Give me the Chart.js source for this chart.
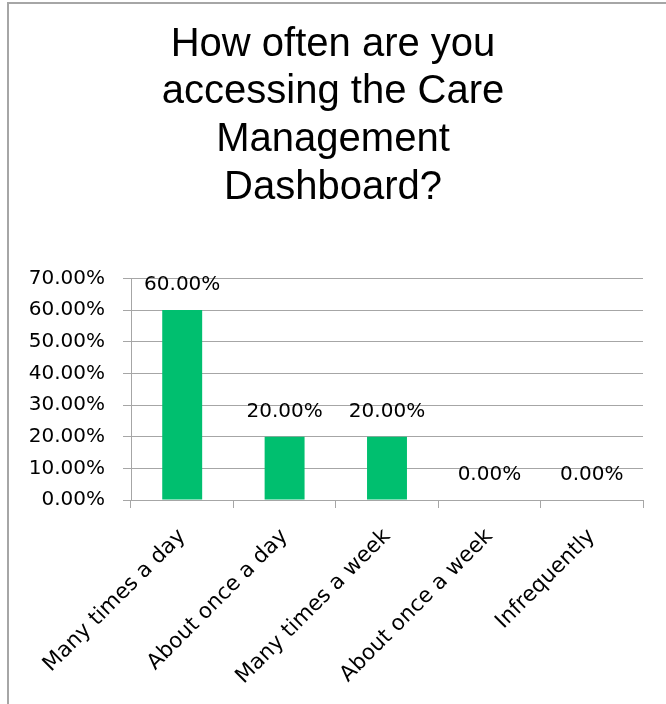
<!DOCTYPE html>
<html>
<head>
<meta charset="utf-8">
<script src="https://cdn.jsdelivr.net/npm/chart.js@4.4.0/dist/chart.umd.min.js"></script>
<style>
  html, body { margin: 0; padding: 0; background: #fff; overflow: hidden; }
  #wrap { position: relative; width: 666px; height: 704px; }
  #frame {
    position: absolute; left: 7px; top: 2px; width: 720px; height: 760px;
    border-top: 2px solid #a6a6a6; border-left: 2px solid #a6a6a6;
  }
  #ChartCanvas { position: absolute; left: 0; top: 0; }
</style>
</head>
<body>
<div id="wrap">
  <div id="frame"></div>
  <canvas id="ChartCanvas" width="666" height="704"></canvas>
</div>
<script>
const titleLines = ["How often are you", "accessing the Care", "Management", "Dashboard?"];
const categories = ["Many times a day", "About once a day", "Many times a week", "About once a week", "Infrequently"];
const percentValues = [60, 20, 20, 0, 0];
const yTicks = [0, 10, 20, 30, 40, 50, 60, 70];

const barColor = "#00bf6f";
const lineColor = "#a6a6a6";
const labelFont = { family: "DejaVu Sans", size: 20 };
const catFont = { family: "DejaVu Sans", size: 21.5 };

function fmtPct(v) {
  return Number(v).toFixed(2) + "%";
}

// draws the value above every bar, like excel data labels
const barLabels = {
  id: "barLabels",
  afterDatasetsDraw(chart) {
    const { ctx } = chart;
    const meta = chart.getDatasetMeta(0);
    ctx.save();
    ctx.font = `${labelFont.size}px ${labelFont.family}`;
    ctx.fillStyle = "#000";
    ctx.textAlign = "center";
    ctx.textBaseline = "middle";
    meta.data.forEach((bar, i) => {
      ctx.fillText(fmtPct(percentValues[i]), bar.x, bar.y - 25);
    });
    ctx.restore();
  },
};

const chartConfig = {
  type: "bar",
  data: {
    labels: categories,
    datasets: [
      {
        data: percentValues,
        backgroundColor: barColor,
        borderWidth: 0,
        barPercentage: 0.39,
        categoryPercentage: 1,
      },
    ],
  },
  options: {
    responsive: false,
    animation: false,
    devicePixelRatio: 1,
    layout: {
      padding: 0,
    },
    plugins: {
      legend: { display: false },
      tooltip: { enabled: false },
      title: {
        display: true,
        text: titleLines,
        color: "#000",
        font: { family: "Liberation Sans", size: 40, weight: "normal", lineHeight: 1.19 },
        padding: { top: 21, bottom: 67 },
      },
    },
    scales: {
      x: {
        grid: {
          display: true,
          drawOnChartArea: false,
          drawTicks: true,
          tickLength: 8,
          color: lineColor,
          offset: true,
        },
        border: { color: lineColor, width: 1 },
        ticks: {
          color: "#000",
          font: catFont,
          minRotation: 45,
          maxRotation: 45,
          autoSkip: false,
          padding: 16,
        },
        afterFit(scale) {
          scale.height = 204;
          scale.paddingLeft = 0;
          scale.paddingRight = 23;
        },
      },
      y: {
        min: 0,
        max: yTicks[yTicks.length - 1],
        afterBuildTicks(scale) {
          scale.ticks = yTicks.map(v => ({ value: v }));
        },
        grid: {
          color: lineColor,
          drawTicks: true,
          tickLength: 8,
        },
        border: { color: lineColor, width: 1 },
        ticks: {
          color: "#000",
          font: labelFont,
          padding: 18,
          callback: v => fmtPct(v),
        },
        afterFit(scale) {
          scale.width = 131;
          scale.paddingTop = 0;
          scale.paddingBottom = 0;
        },
      },
    },
  },
  plugins: [barLabels],
};

new Chart(document.getElementById("ChartCanvas"), chartConfig);
</script>
</body>
</html>
